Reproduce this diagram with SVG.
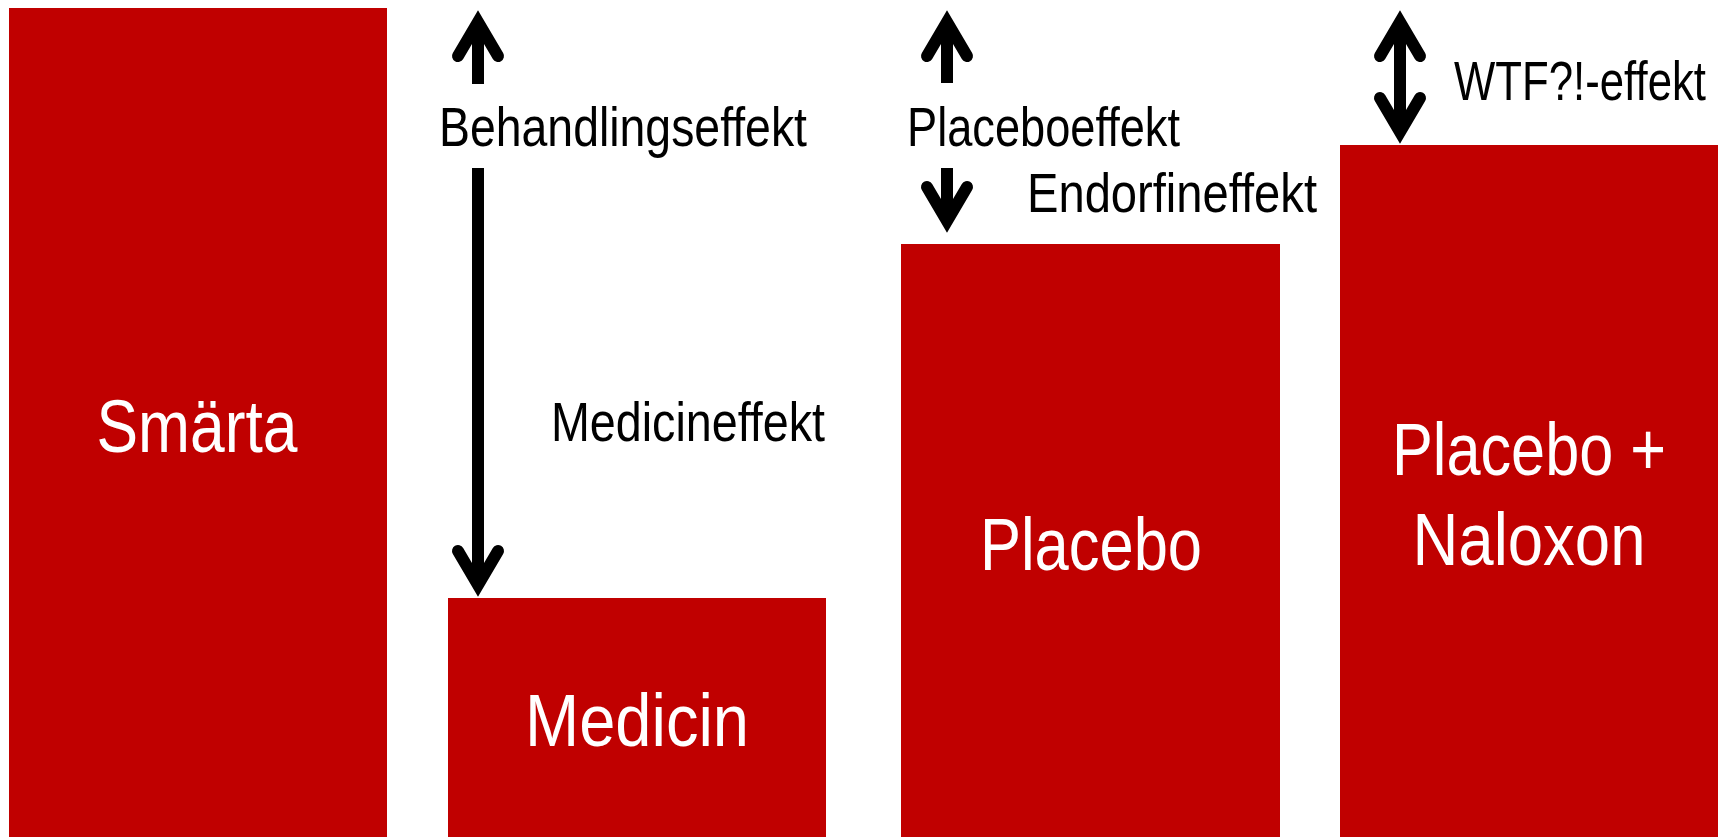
<svg xmlns="http://www.w3.org/2000/svg" width="1721" height="837" viewBox="0 0 1721 837">
<style>
.bar{fill:#C00000}
.bl{font-family:"Liberation Sans Narrow","Liberation Sans",Arial,sans-serif;font-size:75px;fill:#fff;text-anchor:middle}
.lb{font-family:"Liberation Sans Narrow","Liberation Sans",Arial,sans-serif;font-size:55px;fill:#000}
.sh{stroke:#000;stroke-width:12;fill:none}
.hd{stroke:#000;stroke-width:12;fill:none;stroke-linecap:round;stroke-linejoin:miter;stroke-miterlimit:10}
</style>
<rect width="1721" height="837" fill="#fff"/>
<g id="smarta"><rect class="bar" x="9" y="8" width="378" height="829"/><text class="bl" x="197" y="452" textLength="201" lengthAdjust="spacingAndGlyphs">Smärta</text></g>
<g id="medicin"><rect class="bar" x="448" y="598" width="378" height="239"/><text class="bl" x="637" y="746" textLength="224" lengthAdjust="spacingAndGlyphs">Medicin</text></g>
<g id="placebo"><rect class="bar" x="901" y="244" width="379" height="593"/><text class="bl" x="1091" y="570" textLength="222" lengthAdjust="spacingAndGlyphs">Placebo</text></g>
<g id="naloxon"><rect class="bar" x="1340" y="145" width="378" height="692"/><text class="bl" x="1529" y="475" textLength="274" lengthAdjust="spacingAndGlyphs">Placebo +</text><text class="bl" x="1529" y="565" textLength="233" lengthAdjust="spacingAndGlyphs">Naloxon</text></g>
<g id="connectors">
<line class="sh" x1="478" y1="22" x2="478" y2="84"/>
<polyline class="hd" points="458,56 478,22 498,56"/>
<line class="sh" x1="478" y1="168" x2="478" y2="585"/>
<polyline class="hd" points="458,551 478,585 498,551"/>
<line class="sh" x1="947" y1="22" x2="947" y2="83"/>
<polyline class="hd" points="927,56 947,22 967,56"/>
<line class="sh" x1="947" y1="168" x2="947" y2="221"/>
<polyline class="hd" points="927,187 947,221 967,187"/>
<line class="sh" x1="1400" y1="22" x2="1400" y2="132"/>
<polyline class="hd" points="1380,56 1400,22 1420,56"/>
<polyline class="hd" points="1380,98 1400,132 1420,98"/>
</g>
<g id="labels">
<text class="lb" x="439" y="146" textLength="368" lengthAdjust="spacingAndGlyphs">Behandlingseffekt</text>
<text class="lb" x="551" y="441" textLength="274" lengthAdjust="spacingAndGlyphs">Medicineffekt</text>
<text class="lb" x="907" y="146" textLength="273" lengthAdjust="spacingAndGlyphs">Placeboeffekt</text>
<text class="lb" x="1027" y="212" textLength="290" lengthAdjust="spacingAndGlyphs">Endorfineffekt</text>
<text class="lb" x="1454" y="100" textLength="252" lengthAdjust="spacingAndGlyphs">WTF?!-effekt</text>
</g>
</svg>
